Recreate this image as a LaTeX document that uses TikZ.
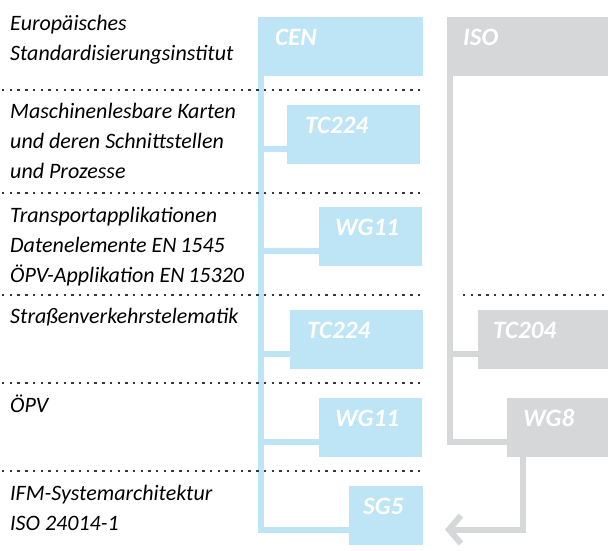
\documentclass[tikz,border=0pt]{standalone}
\usepackage{fontspec}
\setmainfont{Carlito}
\definecolor{cenblue}{RGB}{189,229,245}
\definecolor{isogray}{RGB}{214,215,217}
\definecolor{sepgray}{RGB}{55,55,55}
\usetikzlibrary{arrows.meta,positioning,calc}

\begin{document}
\begin{tikzpicture}[x=1pt,y=-1pt,
  cenbox/.style={fill=cenblue, anchor=north west, inner sep=0pt, minimum height=59pt},
  isobox/.style={fill=isogray, anchor=north west, inner sep=0pt, minimum height=59pt},
  boxtext/.style={anchor=base west, inner sep=0pt, text=white, font=\fontsize{25}{25}\selectfont\bfseries\itshape},
  sidetext/.style={anchor=base west, inner sep=0pt, align=left, font=\fontsize{22}{30}\selectfont\itshape},
  cenline/.style={draw=cenblue, line width=6pt},
  isoline/.style={draw=isogray, line width=6pt},
  separator/.style={draw=sepgray, line width=1.3pt, dash pattern=on 2.4pt off 5.3pt}]

  \useasboundingbox (0,0) rectangle (608,550);

  %--- CEN column ---
  \node[cenbox, minimum width=165pt] (cen) at (258,17) {};
  \node[cenbox, minimum width=133pt] (tc1) at (287,105) {};
  \node[cenbox, minimum width=103pt] (wg1) at (319,207) {};
  \node[cenbox, minimum width=133pt] (tc2) at (290,310) {};
  \node[cenbox, minimum width=103pt] (wg2) at (319,398) {};
  \node[cenbox, minimum width=74pt] (sg5) at (349,486) {};

  \node[boxtext] (centxt) at ([xshift=17pt,yshift=-28pt]cen.north west) {CEN};
  \node[boxtext] (tc1txt) at ([xshift=18pt,yshift=-28pt]tc1.north west) {TC224};
  \node[boxtext] (wg1txt) at ([xshift=16pt,yshift=-28pt]wg1.north west) {WG11};
  \node[boxtext] (tc2txt) at ([xshift=17pt,yshift=-28pt]tc2.north west) {TC224};
  \node[boxtext] (wg2txt) at ([xshift=16pt,yshift=-28pt]wg2.north west) {WG11};
  \node[boxtext] (sg5txt) at ([xshift=14pt,yshift=-28pt]sg5.north west) {SG5};

  %--- ISO column ---
  \node[isobox, minimum width=161pt] (iso) at (447,17) {};
  \node[isobox, minimum width=130pt] (tc204) at (478,310) {};
  \node[isobox, minimum width=101pt] (wg8) at (507,398) {};

  \node[boxtext] (isotxt) at ([xshift=16pt,yshift=-28pt]iso.north west) {ISO};
  \node[boxtext] (tc204txt) at ([xshift=15pt,yshift=-28pt]tc204.north west) {TC204};
  \node[boxtext] (wg8txt) at ([xshift=16pt,yshift=-28pt]wg8.north west) {WG8};

  % Trunk and branches
  \coordinate (centrunk) at ([xshift=3pt]cen.south west);
  \coordinate (tc1in) at ([yshift=15pt]tc1.south west);
  \coordinate (wg1in) at ([yshift=15pt]wg1.south west);
  \coordinate (tc2in) at ([yshift=15pt]tc2.south west);
  \coordinate (wg2in) at ([yshift=15pt]wg2.south west);
  \coordinate (sg5in) at ([yshift=15pt]sg5.south west);
  \draw[cenline] (centrunk) |- (sg5in);
  \draw[cenline] (centrunk |- tc1in) -- (tc1in);
  \draw[cenline] (centrunk |- wg1in) -- (wg1in);
  \draw[cenline] (centrunk |- tc2in) -- (tc2in);
  \draw[cenline] (centrunk |- wg2in) -- (wg2in);

  \coordinate (isotrunk) at ([xshift=3pt]iso.south west);
  \coordinate (tc204in) at ([yshift=15pt]tc204.south west);
  \coordinate (wg8in) at ([yshift=15pt]wg8.south west);
  \draw[isoline] (isotrunk) |- (wg8in);
  \draw[isoline] (isotrunk |- tc204in) -- (tc204in);

  % Arrow WG8 -> back to CEN
  \coordinate (wg8out) at ([xshift=15.5pt]wg8.south west);
  \coordinate (isoend) at (445,529.5);
  \draw[isoline, -{Straight Barb[length=12pt, width=28pt]}] (wg8out) |- (isoend);

  %--- Separators ---
  \draw[separator] (2,90) -- (422,90);
  \draw[separator] (2,193) -- (422,193);
  \draw[separator] (2,295) -- (422,295);
  \draw[separator] (463,295) -- (608,295);
  \draw[separator] (2,383) -- (422,383);
  \draw[separator] (2,471) -- (422,471);

  %--- Descriptions (anchored at the last line) ---
  \node[sidetext] (cendesc) at (10,60) {Europäisches\\Standardisierungsinstitut};
  \node[sidetext] (tc1desc) at (10,178) {Maschinenlesbare Karten\\und deren Schnittstellen\\und Prozesse};
  \node[sidetext] (wg1desc) at (10,282) {Transportapplikationen\\Datenelemente EN\,1545\\ÖPV-Applikation EN\,15320};
  \node[sidetext] (tc2desc) at (10,323) {Straßenverkehrstelematik};
  \node[sidetext] (wg2desc) at (10,412) {ÖPV};
  \node[sidetext] (sg5desc) at (10,530) {IFM-Systemarchitektur\\ISO 24014-1};
\end{tikzpicture}
\end{document}
